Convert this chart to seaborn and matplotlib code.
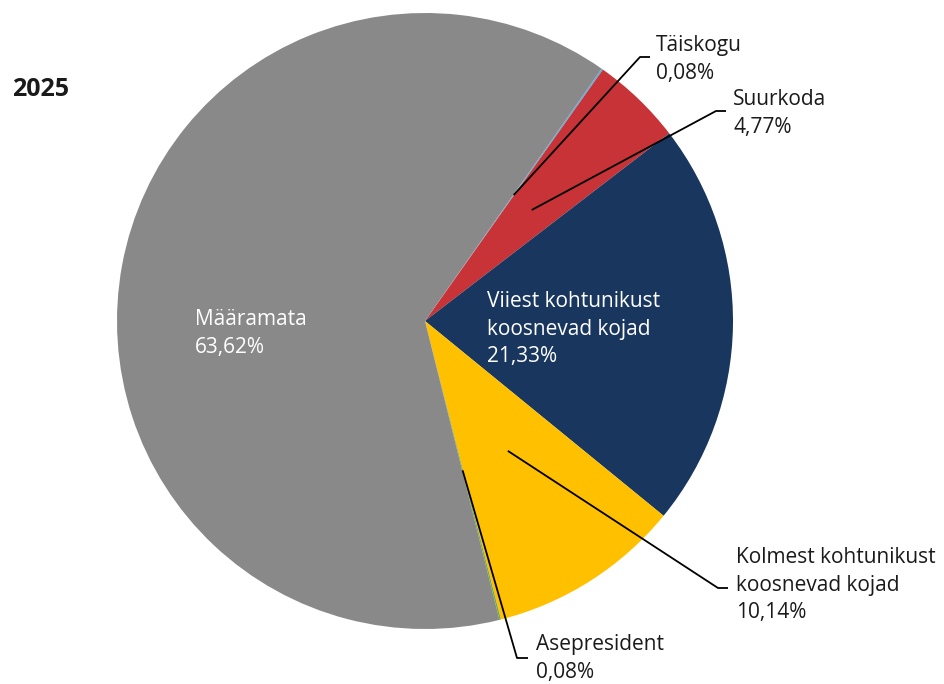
import numpy as np
import matplotlib
matplotlib.use("Agg")
import matplotlib.pyplot as plt
import seaborn as sns

sns.set_theme(style="white")
plt.rcParams['font.family'] = ['Open Sans', 'DejaVu Sans']

categories = ["Täiskogu", "Suurkoda", "Viiest kohtunikust\nkoosnevad kojad",
              "Kolmest kohtunikust\nkoosnevad kojad", "Asepresident", "Määramata"]
values = [0.08, 4.77, 21.33, 10.14, 0.08, 63.62]
value_labels = ["0,08%", "4,77%", "21,33%", "10,14%", "0,08%", "63,62%"]
colors = ["#4FB3E8", "#C83337", "#18365E", "#FFC000", "#70AD47", "#898989"]
title = "2025"

W, H = 945, 684
fig = plt.figure(figsize=(W / 100, H / 100), dpi=100)
ax = fig.add_axes([0, 0, 1, 1])

cx, cy, R = 425, H - 321, 308
wedges, _ = ax.pie(values, colors=colors, startangle=55, counterclock=False,
                   center=(cx, cy), radius=R,
                   wedgeprops=dict(linewidth=0))
ax.set_xlim(0, W)
ax.set_ylim(0, H)
ax.set_aspect('equal')
ax.axis('off')

fs = 15
ls = 1.42
txt = "#1a1a1a"

def mid_point(w, frac):
    th = np.deg2rad((w.theta1 + w.theta2) / 2)
    return cx + frac * R * np.cos(th), cy + frac * R * np.sin(th)

# outside labels: (index, elbow x, elbow y, end x, text x, text top y)
outside = [
    (0, 640, 57, 650, 656, 35),
    (1, 716, 111, 726, 733, 89),
    (3, 718, 588, 728, 736, 547),
    (4, 517, 658, 528, 536, 634),
]
for i, ex, ey, tx_end, tx, ty in outside:
    sx, sy = mid_point(wedges[i], 0.5)
    ax.plot([sx, ex, tx_end], [sy, H - ey, H - ey], color="black", lw=1.3,
            solid_capstyle='butt')
    ax.text(tx, H - ty, categories[i] + "\n" + value_labels[i], fontsize=fs,
            color=txt, ha="left", va="top", linespacing=ls)

# inside labels
ax.text(487, H - 291, categories[2] + "\n" + value_labels[2], fontsize=fs,
        color="white", ha="left", va="top", linespacing=ls)
ax.text(195, H - 309, categories[5] + "\n" + value_labels[5], fontsize=fs,
        color="white", ha="left", va="top", linespacing=ls)

fig.text(12 / W, 1 - 90 / H, title, fontsize=18, fontweight="bold",
         color="#1a1a1a", ha="left", va="center")

fig.savefig("out.png", dpi=100)
